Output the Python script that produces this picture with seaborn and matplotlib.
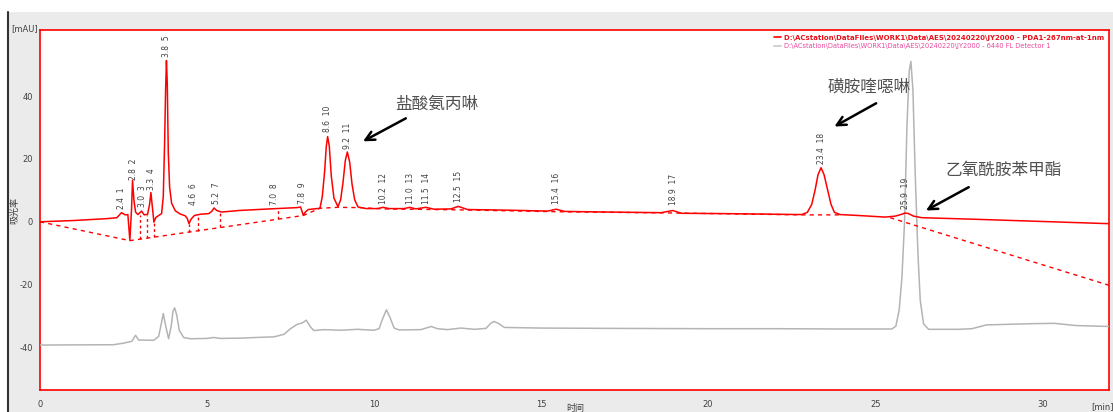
import matplotlib
matplotlib.use('Agg')
import matplotlib.pyplot as plt
from matplotlib.lines import Line2D
from matplotlib.patches import Rectangle
import seaborn as sns
import pandas as pd

# PDA1 267nm trace (time in min, mAU)
red_t = [0.0, 1.0, 2.0, 2.3, 2.44, 2.55, 2.63, 2.69, 2.74, 2.77, 2.81, 2.86, 2.93, 3.04, 3.12,
         3.22, 3.28, 3.32, 3.37, 3.41, 3.47, 3.57, 3.64, 3.69, 3.73, 3.76, 3.785, 3.81, 3.84,
         3.88, 3.94, 4.05, 4.19, 4.35, 4.41, 4.46, 4.52, 4.62, 4.8, 5.05, 5.14, 5.21, 5.29,
         5.43, 5.97, 6.88, 7.68, 7.8, 7.88, 7.95, 8.03, 8.38, 8.45, 8.52, 8.57, 8.61, 8.66,
         8.72, 8.8, 8.92, 9.0, 9.07, 9.14, 9.2, 9.27, 9.34, 9.42, 9.52, 9.77, 10.1, 10.27,
         10.45, 10.9, 11.07, 11.25, 11.55, 11.8, 12.3, 12.52, 12.8, 14.0, 15.2, 15.45, 15.7,
         17.0, 18.6, 18.94, 19.2, 20.5, 22.0, 22.8, 22.97, 23.1, 23.2, 23.29, 23.38, 23.47,
         23.58, 23.68, 23.78, 23.95, 24.5, 25.3, 25.6, 25.8, 25.9, 26.0, 26.15, 26.4, 28.0,
         30.0, 32.0]
red_v = [0.0, 0.4, 1.0, 1.3, 2.9, 2.2, 2.3, -5.9, 4.0, 13.2, 7.0, 3.1, 2.3, 3.4, 2.2,
         2.4, 5.5, 9.3, 4.0, -0.1, 1.4, 2.1, 2.6, 8.0, 25.0, 42.0, 51.3, 44.0, 22.0,
         11.0, 5.9, 3.5, 2.5, 1.9, 1.0, -0.6, 0.8, 2.0, 2.4, 2.6, 3.3, 4.4, 3.6,
         3.1, 3.6, 4.1, 4.5, 4.7, 2.1, 3.2, 3.9, 4.3, 8.0, 16.0, 24.0, 27.1, 24.0,
         14.5, 7.5, 4.8, 7.0, 12.5, 19.5, 22.2, 19.0, 12.0, 7.0, 4.7, 4.2, 4.2, 4.6,
         4.2, 4.2, 4.6, 4.1, 4.6, 4.0, 4.1, 4.9, 3.9, 3.7, 3.4, 4.0, 3.3,
         3.1, 2.9, 3.6, 2.7, 2.6, 2.4, 2.3, 3.0, 5.5, 10.0, 15.0, 17.2, 15.0,
         10.0, 5.5, 3.0, 2.3, 2.0, 1.5, 1.8, 2.4, 2.8, 2.6, 1.8, 1.3, 0.8,
         0.1, -0.6]

# 6440 FL detector trace
grey_t = [0.0, 2.2, 2.5, 2.75, 2.86, 2.95, 3.4, 3.55, 3.62, 3.69, 3.76, 3.85, 3.93, 3.98,
          4.03, 4.09, 4.17, 4.3, 4.5, 5.0, 5.2, 5.4, 6.0, 6.7, 7.0, 7.3, 7.5, 7.7, 7.85,
          7.97, 8.1, 8.2, 8.5, 9.0, 9.5, 10.0, 10.15, 10.25, 10.37, 10.48, 10.6, 10.75,
          11.4, 11.71, 11.9, 12.2, 12.6, 13.0, 13.35, 13.5, 13.6, 13.75, 13.9, 15.0, 17.0,
          20.0, 22.0, 24.0, 25.5, 25.62, 25.72, 25.8, 25.88, 25.95, 26.02, 26.07, 26.13,
          26.2, 26.28, 26.35, 26.45, 26.6, 27.5, 27.9, 28.33, 29.7, 30.37, 31.0, 32.0]
grey_v = [-39.2, -39.1, -38.6, -38.0, -36.1, -37.6, -37.7, -36.5, -33.0, -29.2, -33.0, -37.2,
          -33.0, -28.5, -27.4, -29.5, -34.5, -36.8, -37.2, -37.1, -36.8, -37.1, -37.0, -36.7,
          -36.6, -35.8, -34.0, -32.6, -32.2, -31.3, -33.5, -34.6, -34.3, -34.5, -34.2,
          -34.5, -34.0, -31.0, -28.0, -30.5, -33.8, -34.4, -34.3, -33.3, -34.0, -34.3,
          -33.8, -34.2, -33.9, -32.2, -31.7, -32.5, -33.6, -33.8, -33.9, -34.0, -34.0,
          -34.1, -34.1, -33.2, -28.0, -18.0, 0.0, 30.0, 48.0, 51.0, 42.0, 15.0, -10.0,
          -25.0, -32.5, -34.2, -34.2, -34.0, -32.8, -32.4, -32.3, -33.0, -33.3]

# integration baselines (dashed)
base1_t = [0.0, 2.69, 7.88, 8.38, 8.92, 9.6, 10.27, 11.07, 12.52, 15.45, 18.94, 22.8, 23.95]
base1_v = [0.0, -6.0, 2.0, 4.3, 4.6, 4.5, 4.1, 4.0, 3.8, 3.2, 2.8, 2.2, 2.2]
base2_t = [25.45, 32.0]
base2_v = [1.3, -20.2]
drop_t = [2.99, 3.21, 3.42, 4.46, 4.74, 5.38, 7.13]
drop_top = [2.3, 2.3, -0.1, -0.6, 2.1, 3.2, 4.2]
drop_bot = [-5.5, -5.1, -4.8, -3.2, -2.8, -1.8, 0.8]

# peak labels: retention time, peak number, label position
peak_rt = ['2.4', '2.8', '3.0', '3.3', '3.8', '4.6', '5.2', '7.0', '7.8', '8.6', '9.2',
           '10.2', '11.0', '11.5', '12.5', '15.4', '18.9', '23.4', '25.9']
peak_no = list(range(1, 20))
peak_x = [2.44, 2.79, 3.06, 3.35, 3.8, 4.58, 5.28, 7.03, 7.85, 8.61, 9.2,
          10.29, 11.09, 11.57, 12.54, 15.46, 18.97, 23.38, 25.9]
peak_y = [4.2, 13.4, 4.7, 10.2, 52.5, 5.2, 5.8, 5.2, 5.8, 28.4, 23.2,
          5.8, 5.8, 5.8, 6.3, 5.5, 5.2, 18.5, 4.2]

legend_labels = [r'D:\ACstation\DataFiles\WORK1\Data\AES\20240220\JY2000 - PDA1-267nm-at-1nm',
                 r'D:\ACstation\DataFiles\WORK1\Data\AES\20240220\JY2000 - 6440 FL Detector 1']

RED = '#FF0000'
GREY = '#B4B4B4'
TXT = '#404040'

sns.set_style('white')
plt.rcParams['font.family'] = ['DejaVu Sans']
plt.rcParams['axes.unicode_minus'] = False

W, H = 1113, 412
fig = plt.figure(figsize=(W / 100, H / 100), dpi=100)
fig.patch.set_facecolor('white')
fig.add_artist(Rectangle((8 / W, 0), 1 - 8 / W, 400 / H, transform=fig.transFigure,
                         facecolor='#EBEBEB', edgecolor='none', zorder=-10))
fig.add_artist(Line2D([8 / W, 8 / W], [0, 400 / H], transform=fig.transFigure,
                      color='#333333', lw=1.5))

ax = fig.add_axes([40 / W, 22 / H, 1069 / W, 360 / H])
ax.set_facecolor('white')

df_red = pd.DataFrame({'t': red_t, 'v': red_v})
df_grey = pd.DataFrame({'t': grey_t, 'v': grey_v})
sns.lineplot(data=df_red, x='t', y='v', ax=ax, color=RED, lw=1.1, sort=False,
             estimator=None, zorder=4)
sns.lineplot(data=df_grey, x='t', y='v', ax=ax, color=GREY, lw=1.1, sort=False,
             estimator=None, zorder=3)

# baselines and drop lines
ax.plot(base1_t, base1_v, color=RED, lw=1, ls=(0, (3, 3)), zorder=3)
ax.plot(base2_t, base2_v, color=RED, lw=1, ls=(0, (3, 3)), zorder=3)
ax.vlines(drop_t, drop_bot, drop_top, color=RED, lw=1, ls=(0, (2, 2)), zorder=3)

for rt, no, px, py in zip(peak_rt, peak_no, peak_x, peak_y):
    ax.text(px, py, f'{rt}  {no}', rotation=90, ha='center', va='bottom',
            fontsize=5.5, color=TXT, zorder=5)

ax.set_xlim(0, 32)
ax.set_ylim(-53.5, 61)
ax.set_xticks([0, 5, 10, 15, 20, 25, 30])
ax.set_yticks([-40, -20, 0, 20, 40])
ax.tick_params(axis='both', colors=RED, labelcolor=TXT, length=3, width=1,
               labelsize=6, direction='out', pad=2)
ax.tick_params(axis='x', pad=4)
ax.set_xlabel('')
ax.set_ylabel('')
for sp in ax.spines.values():
    sp.set_color(RED)
    sp.set_linewidth(1.2)
    sp.set_visible(True)

# legend
h_red = Line2D([], [], color=RED, lw=1.2)
h_grey = Line2D([], [], color='#C8C8C8', lw=1.2)
leg = ax.legend([h_red, h_grey], legend_labels, loc='upper right', frameon=False,
                fontsize=5.0, handlelength=1.0, handletextpad=0.5, labelspacing=0.3,
                borderaxespad=0.3, bbox_to_anchor=(1.0, 1.0), alignment='left')
leg.get_texts()[0].set_color('#E8101A')
leg.get_texts()[0].set_fontweight('bold')
leg.get_texts()[1].set_color('#E8489C')
leg.get_texts()[1].set_fontsize(4.8)

# axis captions
fig.text(25 / W, 1 - 28.5 / H, '[mAU]', fontsize=6, color=TXT, ha='center', va='center')
fig.text(1103 / W, 1 - 407 / H, '[min]', fontsize=6, color=TXT, ha='center', va='center')
fig.text(15 / W, 1 - 210 / H, '吸光率', fontsize=6.5, color=TXT, rotation=90,
         ha='center', va='center', family=['Noto Sans CJK SC', 'DejaVu Sans'])
fig.text(575 / W, 1 - 409 / H, '时间', fontsize=6.5, color=TXT, ha='center', va='center',
         family=['Noto Sans CJK SC', 'DejaVu Sans'])

# compound annotations
cjk = ['Noto Sans CJK SC', 'DejaVu Sans']
notes = [('盐酸氨丙啉', (11.88, 37.3), (10.95, 32.9), (9.67, 25.6)),
         ('磺胺喹噁啉', (24.83, 42.7), (25.03, 37.7), (23.78, 30.3)),
         ('乙氧酰胺苯甲酯', (28.84, 16.3), (27.8, 11.0), (26.52, 3.6))]
for label, tpos, tail, head in notes:
    ax.text(tpos[0], tpos[1], label, fontsize=12, color='#505050', ha='center',
            va='center', family=cjk, fontweight='light', zorder=6)
    ax.annotate('', xy=head, xytext=tail,
                arrowprops=dict(arrowstyle='->', lw=1.8, color='black',
                                mutation_scale=16, shrinkA=0, shrinkB=0), zorder=6)

fig.savefig('out.png', dpi=100)
